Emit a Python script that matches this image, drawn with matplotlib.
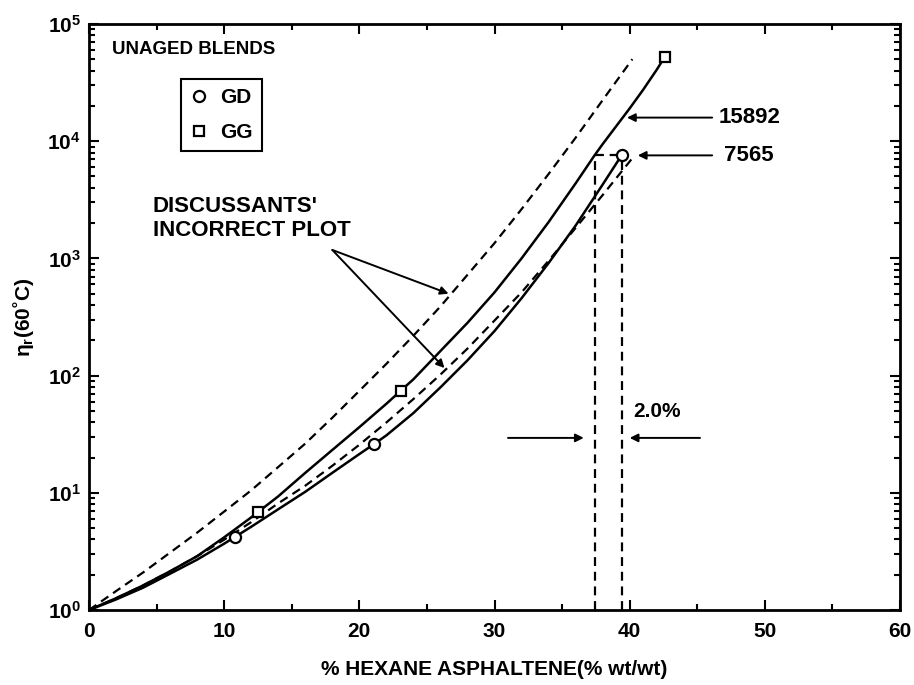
import matplotlib
matplotlib.use("Agg")
import matplotlib.pyplot as plt
from matplotlib.ticker import MultipleLocator, LogLocator, NullFormatter
from matplotlib.lines import Line2D

plt.rcParams["font.family"] = ["Liberation Sans", "DejaVu Sans"]
plt.rcParams["font.weight"] = "bold"
plt.rcParams["mathtext.fontset"] = "custom"
plt.rcParams["mathtext.rm"] = "Liberation Sans:bold"
plt.rcParams["mathtext.bf"] = "Liberation Sans:bold"

# measured blends
gd_x = [10.8, 21.1, 39.4]
gd_eta = [4.2, 26.1, 7565]
gg_x = [12.5, 23.1, 42.6]
gg_eta = [6.86, 74, 52500]

# fitted curves
gg_fit_x = [0, 2, 4, 6, 8, 10, 12, 14, 16, 18, 20, 22, 24, 26, 28, 30, 32, 34, 36,
            37.4, 38, 40, 41, 42, 42.6]
gg_fit_eta = [1, 1.26, 1.62, 2.14, 2.88, 4.17, 6.17, 9.33, 14.8, 23.2, 36.3, 57.5, 93,
              162, 282, 513, 1000, 2040, 4365, 7565, 9440, 19050, 27500, 40700, 52500]
gd_fit_x = [0, 2, 4, 6, 8, 10, 10.8, 12, 14, 16, 18, 20, 21.1, 22, 24, 26, 28, 30, 32,
            34, 36, 38, 39.4]
gd_fit_eta = [1, 1.23, 1.55, 2.04, 2.69, 3.68, 4.2, 5.13, 7.24, 10.2, 14.8, 21.4, 26.1,
              30.9, 47.9, 79.4, 135, 240, 457, 912, 1905, 4265, 7565]

# discussants' incorrect plot
disc_up_x = [0, 2, 4, 6, 8, 10, 12, 14, 16, 18, 20, 22, 24, 26, 28, 30, 32, 34, 36, 38,
             40.2]
disc_up_eta = [1, 1.45, 2.09, 3.09, 4.57, 6.92, 10.5, 16.6, 26.3, 43.7, 74.1, 126, 219,
               389, 724, 1350, 2630, 5250, 10700, 22400, 50100]
disc_lo_x = [0, 2, 4, 6, 8, 10, 12, 14, 16, 18, 20, 22, 24, 26, 28, 30, 32, 34, 36, 38,
             40.3]
disc_lo_eta = [1, 1.26, 1.62, 2.14, 2.88, 3.98, 5.62, 8.13, 11.5, 17.0, 25.7, 39.8, 63.1,
               102, 170, 295, 513, 955, 1820, 3470, 7410]

# 2.0% shift at eta = 7565
x_gg_7565, x_gd_7565, eta_7565 = 37.4, 39.4, 7565

fig = plt.figure(figsize=(9.14, 6.85), dpi=100)
ax = fig.add_axes([0.0974, 0.1095, 0.8873, 0.8555])

DASH = dict(color="k", lw=1.6, dashes=(4, 2.6))
ax.plot(gg_fit_x, gg_fit_eta, color="k", lw=1.8)
ax.plot(gd_fit_x, gd_fit_eta, color="k", lw=1.8)
ax.plot(disc_up_x, disc_up_eta, **DASH)
ax.plot(disc_lo_x, disc_lo_eta, **DASH)

ax.plot(gd_x, gd_eta, ls="none", marker="o", ms=8, mfc="white", mec="k", mew=1.6, zorder=5)
ax.plot(gg_x, gg_eta, ls="none", marker="s", ms=7, mfc="white", mec="k", mew=1.6, zorder=5)

# construction lines for the 2.0% shift
ax.plot([x_gg_7565, x_gg_7565], [1, eta_7565], **DASH)
ax.plot([x_gd_7565, x_gd_7565], [1, eta_7565], **DASH)
ax.plot([x_gg_7565, x_gd_7565], [eta_7565, eta_7565], **DASH)

ax.set_yscale("log")
ax.set_xlim(0, 60)
ax.set_ylim(1, 1e5)

arrow = dict(arrowstyle="-|>", color="k", lw=1.4, mutation_scale=12, shrinkA=0, shrinkB=0)
ax.annotate("", xy=(39.8, 15892), xytext=(46.1, 15892), arrowprops=arrow)
ax.text(46.6, 15892, "15892", fontsize=16, va="center", ha="left")
ax.annotate("", xy=(40.6, eta_7565), xytext=(46.1, eta_7565), arrowprops=arrow)
ax.text(47.0, eta_7565, "7565", fontsize=16, va="center", ha="left")

ax.annotate("", xy=(36.6, 29.4), xytext=(31.0, 29.4), arrowprops=arrow)
ax.annotate("", xy=(40.0, 29.4), xytext=(45.2, 29.4), arrowprops=arrow)
ax.text(40.3, 49, "2.0%", fontsize=15, va="center", ha="left")

ax.annotate("", xy=(26.6, 500), xytext=(18.0, 1180), arrowprops=arrow)
ax.annotate("", xy=(26.3, 116), xytext=(18.0, 1180), arrowprops=arrow)
ax.text(4.7, 2200, "DISCUSSANTS'\nINCORRECT PLOT", fontsize=16, va="center",
        ha="left", linespacing=1.2)

ax.text(1.7, 60000, "UNAGED BLENDS", fontsize=13.5, va="center", ha="left")

handles = [Line2D([], [], ls="none", marker="o", ms=8, mfc="white", mec="k", mew=1.6),
           Line2D([], [], ls="none", marker="s", ms=7, mfc="white", mec="k", mew=1.6)]
leg = ax.legend(handles, ["GD", "GG"], loc="upper left", bbox_to_anchor=(0.113, 0.906),
                borderaxespad=0, fancybox=False, framealpha=1, edgecolor="k",
                prop=dict(size=15, weight="bold"), handlelength=0.9, handletextpad=0.55,
                borderpad=0.45, labelspacing=0.75)
leg.get_frame().set_linewidth(1.5)

ax.xaxis.set_major_locator(MultipleLocator(10))
ax.xaxis.set_minor_locator(MultipleLocator(5))
ax.yaxis.set_minor_locator(LogLocator(base=10, subs=range(2, 10), numticks=10))
ax.yaxis.set_minor_formatter(NullFormatter())
ax.set_yticks([1, 10, 100, 1e3, 1e4, 1e5],
              [r"$\mathbf{10^{%d}}$" % i for i in range(6)])
ax.tick_params(which="both", direction="in", top=True, right=True, width=1.5)
ax.tick_params(which="major", length=7, labelsize=15)
ax.tick_params(which="minor", length=4)
ax.tick_params(axis="x", pad=9)
ax.tick_params(axis="y", pad=6)
for lab in ax.get_xticklabels():
    lab.set_fontweight("bold")
for s in ax.spines.values():
    s.set_linewidth(2)

ax.set_xlabel("% HEXANE ASPHALTENE(% wt/wt)", fontsize=15, fontweight="bold", labelpad=13)
ax.set_ylabel(r"η$_{\mathbf{r}}$(60˚C)", fontsize=15, fontweight="bold", labelpad=8)

fig.savefig("out.png", dpi=100)
